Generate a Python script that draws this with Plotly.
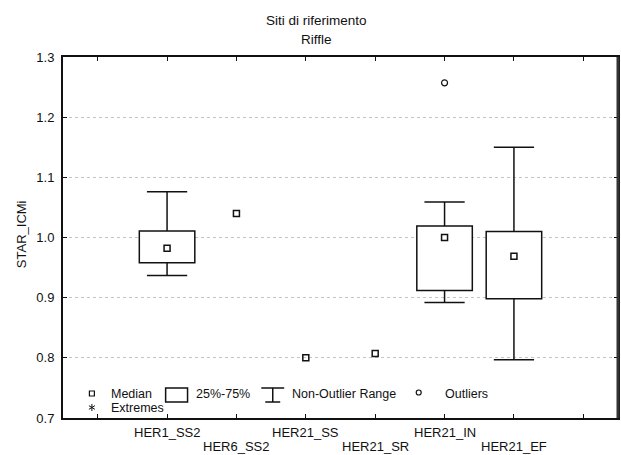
import plotly.graph_objects as go

# ---------------- data ----------------
categories = ["HER1_SS2", "HER6_SS2", "HER21_SS", "HER21_SR", "HER21_IN", "HER21_EF"]
medians    = [0.982, 1.040, 0.800, 0.807, 1.000, 0.969]
q1_vals    = [0.958, None, None, None, 0.912, 0.898]
q3_vals    = [1.011, None, None, None, 1.019, 1.010]
whisk_low  = [0.937, None, None, None, 0.892, 0.797]
whisk_high = [1.076, None, None, None, 1.059, 1.150]
outlier_cat = ["HER21_IN"]
outlier_val = [1.257]
y_ticks = [0.7, 0.8, 0.9, 1.0, 1.1, 1.2, 1.3]
y_tick_labels = ["0.7", "0.8", "0.9", "1.0", "1.1", "1.2", "1.3"]

# ---------------- layout constants ----------------
W, H = 621, 455
L, R, T, B = 63, 620, 57, 418
FONT = "Liberation Sans, Arial, sans-serif"
INK = "#111111"
FS = 13


def xp(px):
    return (px - L) / (R - L)


def yp(py):
    return (B - py) / (B - T)


pos = {c: i + 1 for i, c in enumerate(categories)}
xs = [pos[c] for c in categories]
box_w = 0.8
cap_half = 0.29

# boxes (bars from q1 to q3)
bx, bbase, bh = [], [], []
for x, a, b in zip(xs, q1_vals, q3_vals):
    if a is not None:
        bx.append(x)
        bbase.append(a)
        bh.append(b - a)

# whiskers
wx, wy = [], []
for x, a, b, lo, hi in zip(xs, q1_vals, q3_vals, whisk_low, whisk_high):
    if a is None:
        continue
    wx += [x, x, None, x, x, None, x - cap_half, x + cap_half, None, x - cap_half, x + cap_half, None]
    wy += [b, hi, None, a, lo, None, hi, hi, None, lo, lo, None]

fig = go.Figure()
fig.add_trace(go.Bar(
    x=bx, y=bh, base=bbase, width=box_w,
    marker=dict(color="white", line=dict(color=INK, width=1.5)),
    showlegend=False, hoverinfo="skip"))
fig.add_trace(go.Scatter(
    x=wx, y=wy, mode="lines", line=dict(color=INK, width=1.5),
    showlegend=False, hoverinfo="skip"))
fig.add_trace(go.Scatter(
    x=xs, y=medians, mode="markers",
    marker=dict(symbol="square-open", size=6, color=INK, line=dict(width=1.5)),
    showlegend=False))
fig.add_trace(go.Scatter(
    x=[pos[c] for c in outlier_cat], y=outlier_val, mode="markers",
    marker=dict(symbol="circle-open", size=6, color=INK, line=dict(width=1.2)),
    showlegend=False))

annotations = []
# titles
annotations.append(dict(text="Siti di riferimento", x=xp(317), y=yp(20), xref="paper", yref="paper",
                        showarrow=False, xanchor="center", yanchor="middle", font=dict(size=13.5, color=INK)))
annotations.append(dict(text="Riffle", x=xp(317), y=yp(39), xref="paper", yref="paper",
                        showarrow=False, xanchor="center", yanchor="middle", font=dict(size=13.5, color=INK)))
# y title
annotations.append(dict(text="STAR_ICMi", x=xp(21), y=yp(234), xref="paper", yref="paper", textangle=-90,
                        showarrow=False, xanchor="center", yanchor="middle", font=dict(size=FS, color=INK)))
# staggered category labels
for i, c in enumerate(categories):
    row_y = 432 if i % 2 == 0 else 446.5
    annotations.append(dict(text=c, x=pos[c], y=yp(row_y), xref="x", yref="paper",
                            showarrow=False, xanchor="center", yanchor="middle", borderpad=0,
                            font=dict(size=FS, color=INK)))

# legend texts
leg = [("Median", 110, 393.5), ("25%-75%", 195, 393.5), ("Non-Outlier Range", 292, 393.5),
       ("Outliers", 445, 393.5), ("Extremes", 110, 408)]
for t, x0, y0 in leg:
    annotations.append(dict(text=t, x=xp(x0), y=yp(y0), xref="paper", yref="paper",
                            showarrow=False, xanchor="left", yanchor="middle", borderpad=0,
                            font=dict(size=12.5, color=INK)))

shapes = []
ln = dict(color=INK, width=1.2)
# median symbol
shapes.append(dict(type="rect", xref="paper", yref="paper", x0=xp(89.5), x1=xp(94.5), y0=yp(396), y1=yp(391), line=ln))
# box symbol
shapes.append(dict(type="rect", xref="paper", yref="paper", x0=xp(166), x1=xp(188), y0=yp(402), y1=yp(388), line=dict(color=INK, width=1.5)))
# whisker symbol
for (a, b, c, d) in [(262, 388, 285, 388), (273.5, 388, 273.5, 402), (266, 402, 281, 402)]:
    shapes.append(dict(type="line", xref="paper", yref="paper", x0=xp(a), y0=yp(b), x1=xp(c), y1=yp(d),
                       line=dict(color=INK, width=1.5)))
# outlier symbol
shapes.append(dict(type="circle", xref="paper", yref="paper", x0=xp(417.5), x1=xp(422.5), y0=yp(395), y1=yp(390), line=ln))
# extremes symbol (asterisk)
cx, cy = 92, 407.5
for (dx, dy) in [(0, 3.5), (3, 1.8), (3, -1.8)]:
    shapes.append(dict(type="line", xref="paper", yref="paper", x0=xp(cx - dx), y0=yp(cy - dy),
                       x1=xp(cx + dx), y1=yp(cy + dy), line=dict(color=INK, width=1)))
# heavier right frame edge
shapes.append(dict(type="line", xref="paper", yref="paper", x0=1, x1=1, y0=0, y1=1,
                   line=dict(color="#333333", width=3)))

fig.update_layout(
    width=W, height=H,
    margin=dict(l=L, r=W - R, t=T, b=H - B, pad=0),
    paper_bgcolor="white", plot_bgcolor="white",
    font=dict(family=FONT, size=FS, color=INK),
    showlegend=False,
    barmode="overlay",
    annotations=annotations,
    shapes=shapes,
)
fig.update_xaxes(
    range=[-0.5, 7.5], tickvals=list(range(8)), ticktext=[""] * 8,
    ticks="inside", ticklen=4, tickcolor=INK, tickwidth=1,
    showline=True, linecolor=INK, linewidth=2, mirror="ticks",
    showgrid=False, zeroline=False, fixedrange=True,
)
fig.update_yaxes(
    range=[0.7, 1.3], tickvals=y_ticks, ticktext=y_tick_labels,
    ticks="inside", ticklen=4, tickcolor=INK, tickwidth=1,
    showline=True, linecolor=INK, linewidth=2, mirror="ticks",
    showgrid=True, gridcolor="#c4c4c4", gridwidth=1, griddash="dot",
    zeroline=False, ticklabelstandoff=4, fixedrange=True,
)

fig.write_html("out.html", config={"displayModeBar": False})
